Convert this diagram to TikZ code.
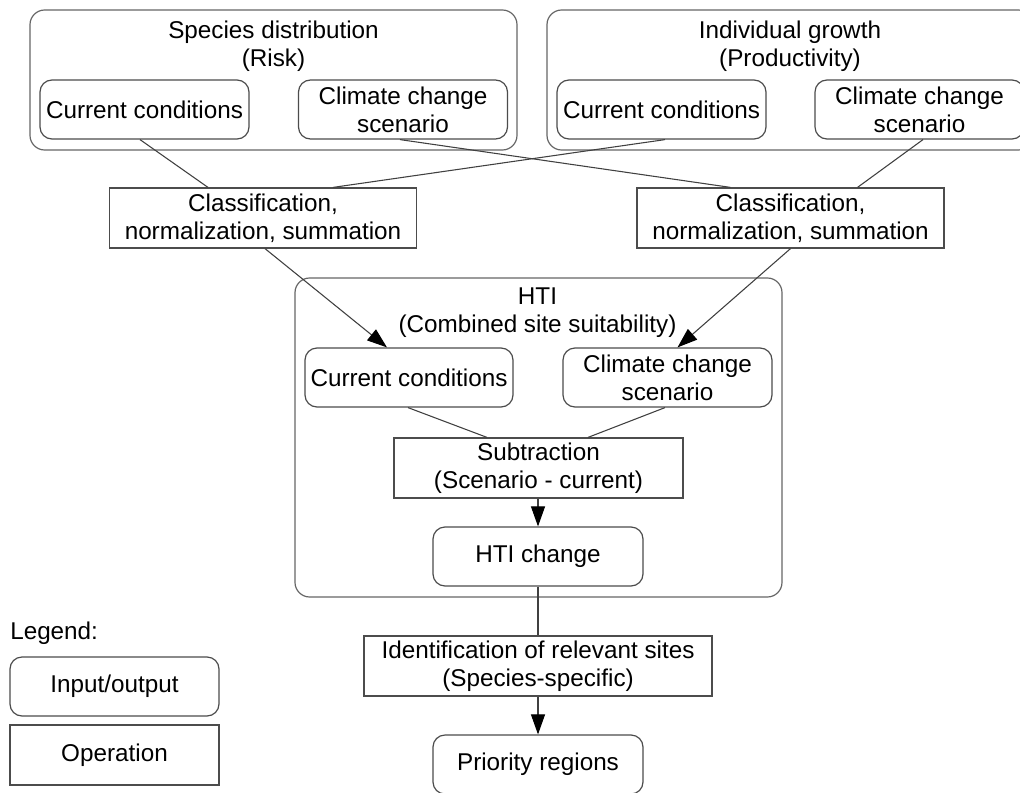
\documentclass[tikz,border=0pt]{standalone}
\usepackage{fontspec}
\setmainfont{Liberation Sans}
\usetikzlibrary{arrows.meta,calc}
\begin{document}
\begin{tikzpicture}[x=0.75pt,y=-0.75pt,
  every node/.style={font=\fontsize{18.2}{21}\selectfont, align=center, inner sep=0pt},
  sz/.style 2 args={minimum width=#1*0.75pt, minimum height=#2*0.75pt},
  group/.style={draw=black!60, line width=0.9pt, rounded corners=11pt},
  io/.style={draw=black!70, line width=0.9pt, rounded corners=9pt},
  op/.style={draw=black!70, line width=0.9pt},
  conn/.style={draw=black!75, line width=0.8pt},
  arr/.style={conn, -{Triangle[length=15pt,width=10.5pt,color=black]}},
  title/.style={}]
\useasboundingbox (0,0) rectangle (1020,792);
\fill[white] (0,0) rectangle (1020,792);

% top groups
\node[group, sz={487}{140}] (sd) at (273.5,80) {};
\node[title] (sdt) at (273.5,46) {Species distribution\\(Risk)};
\node[io, sz={209}{59}] (sdcur) at (144.5,109.5) {Current conditions};
\node[io, sz={209}{59}] (sdclim) at (403,109.5) {Climate change\\scenario};

\node[group, sz={486}{140}] (ig) at (790,80) {};
\node[title] (igt) at (790,46) {Individual growth\\(Productivity)};
\node[io, sz={209}{59}] (igcur) at (661.5,109.5) {Current conditions};
\node[io, sz={209}{59}] (igclim) at (919.5,109.5) {Climate change\\scenario};

% classification
\node[op, sz={307}{60}] (clsL) at (263,218) {Classification,\\normalization, summation};
\node[op, sz={307}{60}] (clsR) at (790.5,218) {Classification,\\normalization, summation};

\draw[conn] ($(sdcur.south)+(-4.5,0)$) -- ($(clsL.north)+(-55,0)$);
\draw[conn] ($(sdclim.south)+(-3,0)$) -- ($(clsR.north)+(-60,0)$);
\draw[conn] ($(igcur.south)+(3.5,0)$) -- ($(clsL.north)+(70,0)$);
\draw[conn] ($(igclim.south)+(3.5,0)$) -- ($(clsR.north)+(67,0)$);

% HTI group
\node[group, sz={487}{319}] (hti) at (538.5,437.5) {};
\node[title] (htit) at (537.5,313) {HTI\\(Combined site suitability)};
\node[io, sz={208}{59}] (hcur) at (409,377.5) {Current conditions};
\node[io, sz={209}{59}] (hclim) at (667.5,377.5) {Climate change\\scenario};

\draw[arr] ($(clsL.south)+(2,0)$) -- ($(hcur.north)+(-22,0)$);
\draw[arr] (clsR.south) -- ($(hclim.north)+(10,0)$);

\node[op, sz={289}{60}] (sub) at (538.5,468) {Subtraction\\(Scenario - current)};
\draw[conn] ($(hcur.south)+(-1,0)$) -- ($(sub.north)+(-51.5,0)$);
\draw[conn] ($(hclim.south)+(-2.5,0)$) -- ($(sub.north)+(49.5,0)$);

\node[io, sz={210}{59}] (hchg) at (538,556.5) {HTI change};
\draw[arr] (sub.south -| hchg.north) -- (hchg.north);

% bottom
\node[op, sz={348}{60}] (ident) at (538,666) {Identification of relevant sites\\(Species-specific)};
\draw[conn] (hchg.south) -- (ident.north);
\node[io, sz={210}{59}] (prio) at (538,764.5) {Priority regions};
\draw[arr] (ident.south) -- (prio.north);

% legend
\node[anchor=base west] (leg) at (10,639) {Legend:};
\node[io, sz={209}{59}] (legio) at (114.5,686.5) {Input/output};
\node[op, sz={209}{60}] (legop) at (114.5,755) {Operation};
\end{tikzpicture}
\end{document}
